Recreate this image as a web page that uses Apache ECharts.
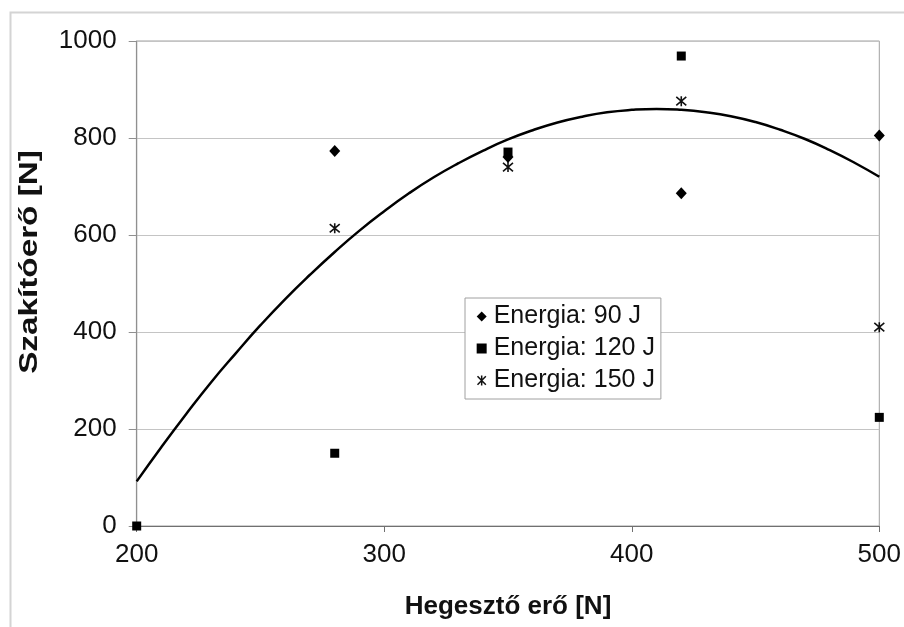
<!DOCTYPE html>
<html>
<head>
<meta charset="utf-8">
<script src="https://cdn.jsdelivr.net/npm/echarts@6/dist/echarts.min.js"></script>
<style>html,body{margin:0;padding:0;background:#fff;}#c{width:904px;height:627px;}</style>
</head>
<body>
<div id="c"></div>
<script>
// Data
var xTicks = [200, 300, 400, 500];
var yTicks = [0, 200, 400, 600, 800, 1000];
var e90x = [280, 350, 420, 500];
var e90y = [773, 761, 686, 805];
var e120x = [200, 280, 350, 420, 500];
var e120y = [0, 150, 771, 969, 224];
var e150x = [280, 350, 420, 500];
var e150y = [614, 740, 876, 410];
// trend curve, every 10 N
var trendX = [200, 210, 220, 230, 240, 250, 260, 270, 280, 290, 300, 310, 320, 330, 340, 350,
              360, 370, 380, 390, 400, 410, 420, 430, 440, 450, 460, 470, 480, 490, 500];
var trendY = [92, 163, 231, 296, 356, 414, 468, 518, 565, 609, 649, 686, 719, 748, 774, 797,
              816, 832, 844, 853, 858, 860, 858, 853, 845, 833, 817, 798, 775, 749, 720];

function pairs(xs, ys) { return xs.map(function (x, i) { return [x, ys[i]]; }); }

var FONT = '"Liberation Sans", Arial, sans-serif';
var starPath = 'path://M0,0L10,10M10,0L0,10M5,-1L5,11';

var chart = echarts.init(document.getElementById('c'), null, {renderer: 'canvas'});
chart.setOption({
  animation: false,
  backgroundColor: '#fff',
  textStyle: {fontFamily: FONT},
  grid: {left: 136.7, top: 41, right: 24.7, bottom: 101, show: true, borderColor: '#a0a0a0', borderWidth: 1},
  graphic: [
    {type: 'rect', left: 8, top: 10, silent: true, shape: {width: 1000, height: 1000},
      style: {fill: 'none', stroke: '#d4d4d4', lineWidth: 2}},
    {type: 'text', x: 30, y: 262, rotation: Math.PI / 2, scaleX: 1.28, silent: true,
      style: {text: 'Szakítóerő [N]', fontFamily: FONT, fontWeight: 'bold', fontSize: 26,
        fill: '#111', align: 'center', verticalAlign: 'middle'}}
  ],
  xAxis: {
    type: 'value', min: 200, max: 500, interval: 100,
    name: 'Hegesztő erő [N]', nameLocation: 'middle', nameGap: 68,
    nameTextStyle: {fontFamily: FONT, fontWeight: 'bold', fontSize: 26, color: '#111'},
    axisLine: {show: true, lineStyle: {color: '#707070', width: 1.2}},
    axisTick: {show: true, length: 6, lineStyle: {color: '#707070'}},
    axisLabel: {fontFamily: FONT, fontSize: 26, color: '#111', margin: 16,
      customValues: xTicks, formatter: function (v) { return String(v); }},
    splitLine: {show: false}
  },
  yAxis: {
    type: 'value', min: 0, max: 1000, interval: 200,
    axisLine: {show: true, lineStyle: {color: '#909090', width: 1.2}},
    axisTick: {show: true, length: 8, lineStyle: {color: '#909090'}},
    axisLabel: {fontFamily: FONT, fontSize: 26, color: '#111', margin: 20,
      customValues: yTicks, formatter: function (v) { return String(v); }},
    splitLine: {show: true, lineStyle: {color: '#c4c4c4', width: 1}}
  },
  legend: {
    orient: 'vertical', left: 465, top: 298,
    backgroundColor: '#fff', borderColor: '#a0a0a0', borderWidth: 1,
    padding: [6, 6, 6, 10], itemGap: 7, itemWidth: 10, itemHeight: 10,
    textStyle: {fontFamily: FONT, fontSize: 25, color: '#111', padding: [0, 0, 0, 2]},
    data: [
      {name: 'Energia: 90 J', icon: 'diamond'},
      {name: 'Energia: 120 J', icon: 'rect'},
      {name: 'Energia: 150 J', icon: starPath, itemStyle: {color: 'none', borderColor: '#111', borderWidth: 1.5}}
    ]
  },
  series: [
    {type: 'line', name: 'trend', data: pairs(trendX, trendY), smooth: true, showSymbol: false, symbol: 'none',
      lineStyle: {color: '#000', width: 2.5}, z: 1, silent: true},
    {type: 'scatter', name: 'Energia: 90 J', data: pairs(e90x, e90y), symbol: 'diamond', symbolSize: [11, 12],
      itemStyle: {color: '#000', opacity: 1}, z: 3},
    {type: 'scatter', name: 'Energia: 120 J', data: pairs(e120x, e120y), symbol: 'rect', symbolSize: 9,
      itemStyle: {color: '#000', opacity: 1}, z: 4},
    {type: 'scatter', name: 'Energia: 150 J', data: pairs(e150x, e150y), symbol: starPath, symbolSize: 10,
      itemStyle: {color: 'none', borderColor: '#111', borderWidth: 1.6, opacity: 1}, z: 5}
  ]
});
</script>
</body>
</html>
